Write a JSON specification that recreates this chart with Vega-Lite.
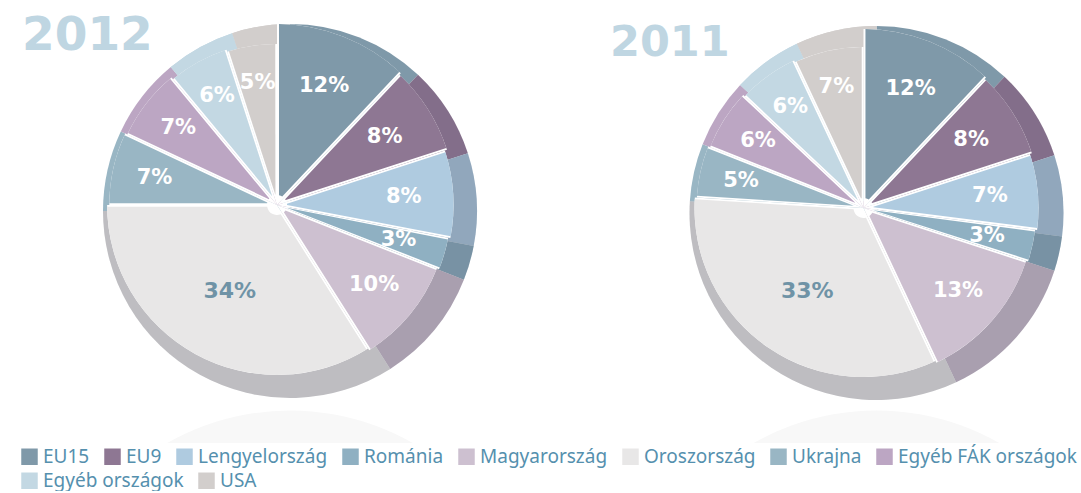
{
"$schema":"https://vega.github.io/schema/vega-lite/v6.json",
"padding":0,
"background":"white",
"spacing":0,
"autosize":{"type":"pad"},
"datasets":{"d":[
{"year":2012,"seg":"EU15","pct":12,"label":"12%","idx":1},
{"year":2012,"seg":"EU9","pct":8,"label":"8%","idx":2},
{"year":2012,"seg":"Lengyelország","pct":8,"label":"8%","idx":3},
{"year":2012,"seg":"Románia","pct":3,"label":"3%","idx":4},
{"year":2012,"seg":"Magyarország","pct":10,"label":"10%","idx":5},
{"year":2012,"seg":"Oroszország","pct":34,"label":"34%","idx":6},
{"year":2012,"seg":"Ukrajna","pct":7,"label":"7%","idx":7},
{"year":2012,"seg":"Egyéb FÁK országok","pct":7,"label":"7%","idx":8},
{"year":2012,"seg":"Egyéb országok","pct":6,"label":"6%","idx":9},
{"year":2012,"seg":"USA","pct":5,"label":"5%","idx":10},
{"year":2011,"seg":"EU15","pct":12,"label":"12%","idx":1},
{"year":2011,"seg":"EU9","pct":8,"label":"8%","idx":2},
{"year":2011,"seg":"Lengyelország","pct":7,"label":"7%","idx":3},
{"year":2011,"seg":"Románia","pct":3,"label":"3%","idx":4},
{"year":2011,"seg":"Magyarország","pct":13,"label":"13%","idx":5},
{"year":2011,"seg":"Oroszország","pct":33,"label":"33%","idx":6},
{"year":2011,"seg":"Ukrajna","pct":5,"label":"5%","idx":7},
{"year":2011,"seg":"Egyéb FÁK országok","pct":6,"label":"6%","idx":8},
{"year":2011,"seg":"Egyéb országok","pct":6,"label":"6%","idx":9},
{"year":2011,"seg":"USA","pct":7,"label":"7%","idx":10}
]},
"hconcat":[
{"width":540,"height":443,
"title":{"text":"2012","anchor":"start","frame":"group","dx":22,"offset":-60,"font":"DejaVu Sans","fontWeight":"bold","fontSize":47,"color":"#bfd6e2"},
"data":{"name":"d"},"transform":[{"filter":"datum.year===2012"},{"stack":"pct","groupby":["year"],"sort":[{"field":"idx","order":"ascending"}],"as":["t0","t1"]},{"calculate":"(datum.t0+datum.t1)/2","as":"mid"},{"calculate":"datum.seg","as":"key"}],
"encoding":{"theta":{"field":"t0","type":"quantitative","scale":{"domain":[0,100]}},"theta2":{"field":"t1"}},
"resolve":{"scale":{"radius":"independent"}},
"layer":[
{"data":{"values":[{"k":1}]},"transform":[],"mark":{"type":"arc","clip":true,"radius":248,"theta":-0.7,"theta2":0.7,"fill":"#f8f8f8","xOffset":20,"yOffset":437},"encoding":{"theta":null,"theta2":null}},
{"mark":{"type":"arc","radius":187,"xOffset":20,"yOffset":-10.5},"encoding":{"color":{"field":"seg","type":"nominal","scale":{"domain":["EU15","EU9","Lengyelország","Románia","Magyarország","Oroszország","Ukrajna","Egyéb FÁK országok","Egyéb országok","USA"]},"legend":{"orient":"none","legendX":20,"legendY":447,"columns":8,"direction":"horizontal","values":["EU15","EU9","Lengyelország","Románia","Magyarország","Oroszország","Ukrajna","Egyéb FÁK országok"]}}}},
{"transform":[{"filter":"datum.idx>=9"}],"mark":{"type":"arc","radius":187,"xOffset":20,"yOffset":-10.5},"encoding":{"fill":{"field":"seg","type":"nominal","scale":{"domain":["Egyéb országok","USA"],"range":["#c3d8e3","#d2cecc"]},"legend":{"orient":"none","legendX":20,"legendY":471,"columns":2,"direction":"horizontal"}}}},
{"transform":[{"filter":"datum.idx>=3 && datum.idx<=6"}],"mark":{"type":"arc","radius":187,"xOffset":20,"yOffset":-10.5,"fill":"#2a2a3a","opacity":0.22}},
{"transform":[{"filter":"datum.idx===2"}],"mark":{"type":"arc","radius":187,"xOffset":20,"yOffset":-10.5,"fill":"#2a2a3a","opacity":0.1}},
{"mark":{"type":"arc","fill":"white","xOffset":7,"yOffset":-16.5},"encoding":{"radius":{"field":"key","type":"nominal","legend":null,"scale":{"type":"ordinal","domain":["EU15","EU9","Lengyelország","Románia","Magyarország","Oroszország","Ukrajna","Egyéb FÁK országok","Egyéb országok","USA"],"range":[182,160,156,160,172,178,172,172,178,184]}},"radius2":{"value":0}}},
{"mark":{"type":"arc","padAngle":0.022,"xOffset":7,"yOffset":-16.5},"encoding":{"color":{"field":"seg","type":"nominal"},"radius":{"field":"key","type":"nominal","legend":null,"scale":{"type":"ordinal","domain":["EU15","EU9","Lengyelország","Románia","Magyarország","Oroszország","Ukrajna","Egyéb FÁK országok","Egyéb országok","USA"],"range":[182,160,156,160,172,178,172,172,178,184]}},"radius2":{"value":10}}},
{"transform":[{"filter":"datum.idx!==6"}],"mark":{"type":"text","xOffset":7,"yOffset":-16.5,"font":"DejaVu Sans","fontWeight":"bold","fontSize":21,"fill":"white"},"encoding":{"theta":{"field":"mid","type":"quantitative","scale":{"domain":[0,100]}},"theta2":null,"text":{"field":"label"},"radius":{"field":"key","type":"nominal","legend":null,"scale":{"type":"ordinal","domain":["EU15","EU9","Lengyelország","Románia","Magyarország","Ukrajna","Egyéb FÁK országok","Egyéb országok","USA"],"range":[128,124,110,112,113,128,125,132,128]}}}},
{"transform":[{"filter":"datum.idx===6"}],"mark":{"type":"text","radius":98,"xOffset":7,"yOffset":-16.5,"font":"DejaVu Sans","fontWeight":"bold","fontSize":22,"fill":"#6f93a6"},"encoding":{"theta":{"field":"mid","type":"quantitative","scale":{"domain":[0,100]}},"theta2":null,"text":{"field":"label"}}}
]},
{"width":541,"height":443,
"title":{"text":"2011","anchor":"start","frame":"group","dx":70,"offset":-65,"font":"DejaVu Sans","fontWeight":"bold","fontSize":43,"color":"#bfd6e2"},
"data":{"name":"d"},"transform":[{"filter":"datum.year===2011"},{"stack":"pct","groupby":["year"],"sort":[{"field":"idx","order":"ascending"}],"as":["t0","t1"]},{"calculate":"(datum.t0+datum.t1)/2","as":"mid"},{"calculate":"datum.seg","as":"key"}],
"encoding":{"theta":{"field":"t0","type":"quantitative","scale":{"domain":[0,100]}},"theta2":{"field":"t1"}},
"resolve":{"scale":{"radius":"independent"}},
"layer":[
{"data":{"values":[{"k":1}]},"transform":[],"mark":{"type":"arc","clip":true,"radius":248,"theta":-0.7,"theta2":0.7,"fill":"#f8f8f8","xOffset":66,"yOffset":437},"encoding":{"theta":null,"theta2":null}},
{"mark":{"type":"arc","radius":187,"xOffset":66,"yOffset":-8.5},"encoding":{"color":{"field":"seg","type":"nominal","legend":{"orient":"none","legendX":20,"legendY":447,"columns":8,"direction":"horizontal","values":["EU15","EU9","Lengyelország","Románia","Magyarország","Oroszország","Ukrajna","Egyéb FÁK országok"]}}}},
{"transform":[{"filter":"datum.idx>=9"}],"mark":{"type":"arc","radius":187,"xOffset":66,"yOffset":-8.5},"encoding":{"fill":{"field":"seg","type":"nominal","scale":{"domain":["Egyéb országok","USA"],"range":["#c3d8e3","#d2cecc"]},"legend":{"orient":"none","legendX":20,"legendY":471,"columns":2,"direction":"horizontal"}}}},
{"transform":[{"filter":"datum.idx>=3 && datum.idx<=6"}],"mark":{"type":"arc","radius":187,"xOffset":66,"yOffset":-8.5,"fill":"#2a2a3a","opacity":0.22}},
{"transform":[{"filter":"datum.idx===2"}],"mark":{"type":"arc","radius":187,"xOffset":66,"yOffset":-8.5,"fill":"#2a2a3a","opacity":0.1}},
{"mark":{"type":"arc","fill":"white","xOffset":53,"yOffset":-13.5},"encoding":{"radius":{"field":"key","type":"nominal","legend":null,"scale":{"type":"ordinal","domain":["EU15","EU9","Lengyelország","Románia","Magyarország","Oroszország","Ukrajna","Egyéb FÁK országok","Egyéb országok","USA"],"range":[180,160,156,160,172,176,172,172,178,180]}},"radius2":{"value":0}}},
{"mark":{"type":"arc","padAngle":0.022,"xOffset":53,"yOffset":-13.5},"encoding":{"color":{"field":"seg","type":"nominal"},"radius":{"field":"key","type":"nominal","legend":null,"scale":{"type":"ordinal","domain":["EU15","EU9","Lengyelország","Románia","Magyarország","Oroszország","Ukrajna","Egyéb FÁK országok","Egyéb országok","USA"],"range":[180,160,156,160,172,176,172,172,178,180]}},"radius2":{"value":10}}},
{"transform":[{"filter":"datum.idx!==6"}],"mark":{"type":"text","xOffset":53,"yOffset":-13.5,"font":"DejaVu Sans","fontWeight":"bold","fontSize":21,"fill":"white"},"encoding":{"theta":{"field":"mid","type":"quantitative","scale":{"domain":[0,100]}},"theta2":null,"text":{"field":"label"},"radius":{"field":"key","type":"nominal","legend":null,"scale":{"type":"ordinal","domain":["EU15","EU9","Lengyelország","Románia","Magyarország","Ukrajna","Egyéb FÁK országok","Egyéb országok","USA"],"range":[128,124,110,112,106,124,124,133,132]}}}},
{"transform":[{"filter":"datum.idx===6"}],"mark":{"type":"text","radius":100,"xOffset":53,"yOffset":-13.5,"font":"DejaVu Sans","fontWeight":"bold","fontSize":22,"fill":"#6f93a6"},"encoding":{"theta":{"field":"mid","type":"quantitative","scale":{"domain":[0,100]}},"theta2":null,"text":{"field":"label"}}}
]}
],
"resolve":{"scale":{"color":"shared","fill":"shared"},"legend":{"color":"shared","fill":"shared"}},
"config":{
"view":{"stroke":null},
"range":{"category":["#7f99a9","#8e7793","#afcbe0","#8fb0c2","#cdc0d0","#e8e7e7","#99b6c4","#bca6c3","#c3d8e3","#d2cecc"]},
"legend":{"title":null,"symbolType":"square","symbolSize":272,"symbolStrokeWidth":0,"symbolOpacity":1,"labelFont":"Noto Sans","labelFontSize":19,"labelColor":"#5590ae","labelLimit":300,"columnPadding":13,"rowPadding":6,"symbolOffset":0,"labelOffset":4,"padding":0}
}
}
